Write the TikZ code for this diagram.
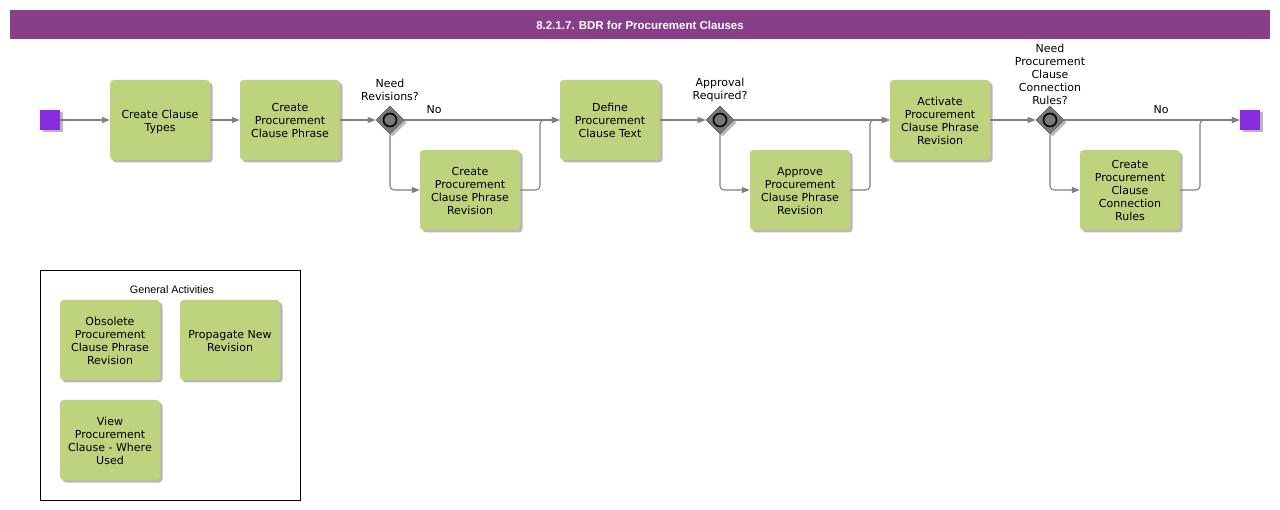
\documentclass[tikz,border=0pt]{standalone}
\usepackage{fontspec}
\setmainfont{DejaVu Sans}
\newfontfamily\arialfont{Liberation Sans}
\usetikzlibrary{arrows.meta,shapes.geometric,shadows}
\definecolor{titlebar}{RGB}{135,63,138}
\definecolor{boxgreen}{RGB}{189,211,126}
\definecolor{evt}{RGB}{138,43,226}
\definecolor{flowgrey}{RGB}{128,128,128}
\definecolor{gwgrey}{RGB}{120,120,120}
\newcommand{\boxtext}[1]{\raisebox{-2pt}[\height][\depth]{\begin{tabular}{@{}c@{}}#1\end{tabular}}}
\tikzset{
  softshadow/.style={drop shadow={shadow xshift=2.5pt, shadow yshift=-2.5pt, fill=black, opacity=0.28}},
  task/.style={fill=boxgreen, rounded corners=3.5pt, minimum width=100pt, minimum height=80pt,
    align=center, inner sep=0pt, font=\fontsize{11}{13}\selectfont, softshadow},
  event/.style={fill=evt, minimum width=20pt, minimum height=20pt, inner sep=0pt, softshadow},
  gateway/.style={diamond, fill=gwgrey, draw=gray!80!black, line width=0.6pt, minimum width=28pt, minimum height=28pt, inner sep=0pt, softshadow},
  gwlabel/.style={align=center, inner sep=0pt, font=\fontsize{11}{13}\selectfont},
  flow/.style={draw=flowgrey, line width=1.1pt, -{Triangle[length=8pt,width=6pt]}, rounded corners=4pt},
}
\begin{document}
\begin{tikzpicture}[x=1pt,y=-1pt]
\useasboundingbox (0,0) rectangle (1280,510);
\fill[white] (0,0) rectangle (1280,510);
% title
\node[fill=titlebar, minimum width=1260pt, minimum height=29pt, inner sep=0pt, text=white,
  font=\arialfont\bfseries\fontsize{11.5}{13}\selectfont] (title) at (640,24.5) {\raisebox{-1pt}[\height][\depth]{8.2.1.7. BDR for Procurement Clauses}};
% events
\node[event] (start) at (50,120) {};
\node[event] (end) at (1250,120) {};
% tasks
\node[task] (t1) at (160,120) {\boxtext{Create Clause\\Types}};
\node[task] (t2) at (290,120) {\boxtext{Create\\Procurement\\Clause Phrase}};
\node[task] (t3) at (470,190) {\boxtext{Create\\Procurement\\Clause Phrase\\Revision}};
\node[task] (t4) at (610,120) {\boxtext{Define\\Procurement\\Clause Text}};
\node[task] (t5) at (800,190) {\boxtext{Approve\\Procurement\\Clause Phrase\\Revision}};
\node[task] (t6) at (940,120) {\boxtext{Activate\\Procurement\\Clause Phrase\\Revision}};
\node[task] (t7) at (1130,190) {\boxtext{Create\\Procurement\\Clause\\Connection\\Rules}};
% gateways
\node[gateway] (g1) at (390,120) {};
\node[gateway] (g2) at (720,120) {};
\node[gateway] (g3) at (1050,120) {};
\foreach \g in {g1,g2,g3}{\draw[black, line width=1.6pt, fill=gwgrey] (\g) circle (6.5pt);}
\node[gwlabel] (l1) at (390,90) {Need\\Revisions?};
\node[gwlabel] (l2) at (720,90) {Approval\\Required?};
\node[gwlabel] (l3) at (1050,74.5) {Need\\Procurement\\Clause\\Connection\\Rules?};
% merge points
\coordinate (m1) at (540,120);
\coordinate (m2) at (870,120);
\coordinate (m3) at (1200,120);
% flows
\draw[flow] (start.east) -- (t1.west);
\draw[flow] (t1.east) -- (t2.west);
\draw[flow] (t2.east) -- (g1.west);
\node[font=\fontsize{11}{13}\selectfont, inner sep=0pt] (no1) at (434,110) {No};
\draw[flow] (g1.east) -- (t4.west);
\draw[flow] (g1.south) |- (t3.west);
\draw[flow] (t3.east) -| (m1) -- (t4.west);
\draw[flow] (t4.east) -- (g2.west);
\draw[flow] (g2.east) -- (t6.west);
\draw[flow] (g2.south) |- (t5.west);
\draw[flow] (t5.east) -| (m2) -- (t6.west);
\draw[flow] (t6.east) -- (g3.west);
\node[font=\fontsize{11}{13}\selectfont, inner sep=0pt] (no3) at (1161,110) {No};
\draw[flow] (g3.east) -- (end.west);
\draw[flow] (g3.south) |- (t7.west);
\draw[flow] (t7.east) -| (m3) -- (end.west);
% general activities
\node[draw=black, line width=0.8pt, minimum width=260pt, minimum height=230pt, inner sep=0pt] (ga) at (170,385) {};
\node[font=\arialfont\fontsize{10.8}{12}\selectfont, inner sep=0pt] (gat) at (172,289.5) {General Activities};
\node[task] (a1) at (110,340) {\boxtext{Obsolete\\Procurement\\Clause Phrase\\Revision}};
\node[task] (a2) at (230,340) {\boxtext{Propagate New\\Revision}};
\node[task] (a3) at (110,440) {\boxtext{View\\Procurement\\Clause - Where\\Used}};
\end{tikzpicture}
\end{document}
